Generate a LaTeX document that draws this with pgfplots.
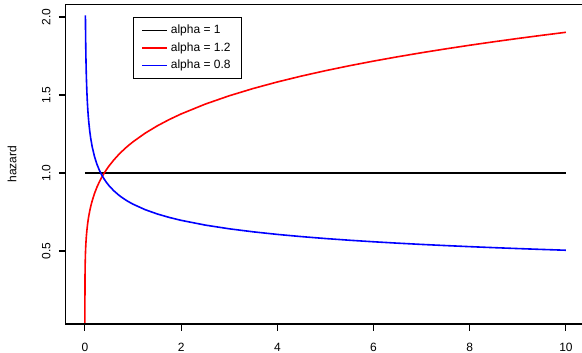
\documentclass[border=0pt]{standalone}
\usepackage{fontspec}
\setmainfont{Liberation Sans}
\usepackage{pgfplots}
\pgfplotsset{compat=1.18}
\begin{document}
\begin{tikzpicture}
\useasboundingbox (-49.275pt,-21.75pt) rectangle (387.225pt,243pt);
\begin{axis}[
  name=ax,
  scale only axis,
  width=387.225pt, height=239.625pt,
  xmin=-0.4, xmax=10.334, ymin=0.032, ymax=2.080,
  axis line style={draw=none},
  font=\fontsize{9}{11}\selectfont,
  /pgf/number format/assume math mode=true,
  tick align=outside, major tick length=5.2pt,
  xtick={0,2,4,6,8,10}, ytick={0.5,1.0,1.5,2.0},
  xtick pos=left, ytick pos=left,
  yticklabel style={xshift=-2.6pt, rotate=90, anchor=south, /pgf/number format/fixed, /pgf/number format/fixed zerofill, /pgf/number format/precision=1},
  xticklabel style={anchor=north, yshift=-5.5pt},
  ylabel={hazard},
  ylabel style={at={(axis description cs:-0.1040,0.5)}, rotate=0, anchor=center},
  every tick/.style={draw=black, line width=0.8pt},
  legend style={at={(0.1303,0.961)}, anchor=north west, draw=black, line width=1pt,
     font=\fontsize{9}{11}\selectfont, row sep=1.2pt, inner xsep=6pt, inner ysep=3.5pt,
     /tikz/every even column/.append style={column sep=7pt}},
  legend cell align=left,
  legend image code/.code={\draw[#1] (0pt,0pt) -- (18.75pt,0pt);},
]
\addlegendimage{draw=black, line width=1.2pt}
\addlegendentry{alpha = 1}
\addlegendimage{draw=red, line width=1.2pt}
\addlegendentry{alpha = 1.2}
\addlegendimage{draw=blue, line width=1.2pt}
\addlegendentry{alpha = 0.8}
\addplot[black, line width=1.2pt, forget plot] coordinates {(0,1) (10,1)};
\addplot[red, line width=1.2pt, forget plot] coordinates {
(0,0) (0.0000001,0.0478) (0.000001,0.0757) (0.00001,0.12) (0.0001,0.19019) (0.0005,0.26240) (0.001,0.30143) (0.002,0.34625) (0.005,0.41588)
(0.01,0.47773) (0.012,0.49548) (0.015,0.51808) (0.02,0.54876) (0.025,0.57382) (0.03,0.59512) (0.04,0.63037) (0.05,0.65914) (0.06,0.68362) (0.07,0.70502) (0.08,0.72410) (0.1,0.75715)
(0.12,0.78524) (0.15,0.82109) (0.2,0.86974) (0.25,0.90943) (0.3,0.94320) (0.35,0.97273) (0.4,0.99906) (0.45,1.02288) (0.5,1.04466) (0.6,1.08346) (0.7,1.11738) (0.75,1.13291) (0.85,1.16162) (0.9,1.17498) (1,1.2)
(1.25,1.25477) (1.5,1.30136) (1.75,1.34212) (2,1.37844) (2.5,1.44134) (3,1.49488) (3.5,1.54169) (4,1.58341) (4.5,1.62115) (5,1.65568) (5.5,1.68754) (6,1.71716) (6.5,1.74486) (7,1.77092) (7.5,1.79554) (8,1.81886) (8.5,1.84105) (9,1.86222) (9.5,1.88245) (10,1.90187)};
\addplot[blue, line width=1.2pt, forget plot] coordinates {
(0.01,2.00950) (0.012,1.93752) (0.015,1.85301) (0.02,1.74940) (0.025,1.67301) (0.03,1.61313) (0.04,1.52291) (0.05,1.45645) (0.06,1.40430) (0.07,1.36166) (0.08,1.32578) (0.1,1.26791)
(0.12,1.22255) (0.15,1.16918) (0.2,1.10378) (0.25,1.05560) (0.3,1.01781) (0.35,0.98691) (0.4,0.96090) (0.45,0.93853) (0.5,0.91896) (0.6,0.88604) (0.7,0.85915) (0.75,0.84738) (0.85,0.82643) (0.9,0.81703) (1,0.8)
(1.25,0.76508) (1.5,0.73768) (1.75,0.71529) (2,0.69644) (2.5,0.66604) (3,0.64220) (3.5,0.62270) (4,0.60629) (4.5,0.59217) (5,0.57982) (5.5,0.56888) (6,0.55906) (6.5,0.55019) (7,0.54209) (7.5,0.53466) (8,0.52780) (8.5,0.52144) (9,0.51551) (9.5,0.50997) (10,0.50477)};
\end{axis}
\draw[draw=black, line width=1.1pt] (ax.north east) ++(5pt,0) -- (ax.north west) -- (ax.south west) -- (ax.south east) -- ++(5pt,0);
\end{tikzpicture}
\end{document}
